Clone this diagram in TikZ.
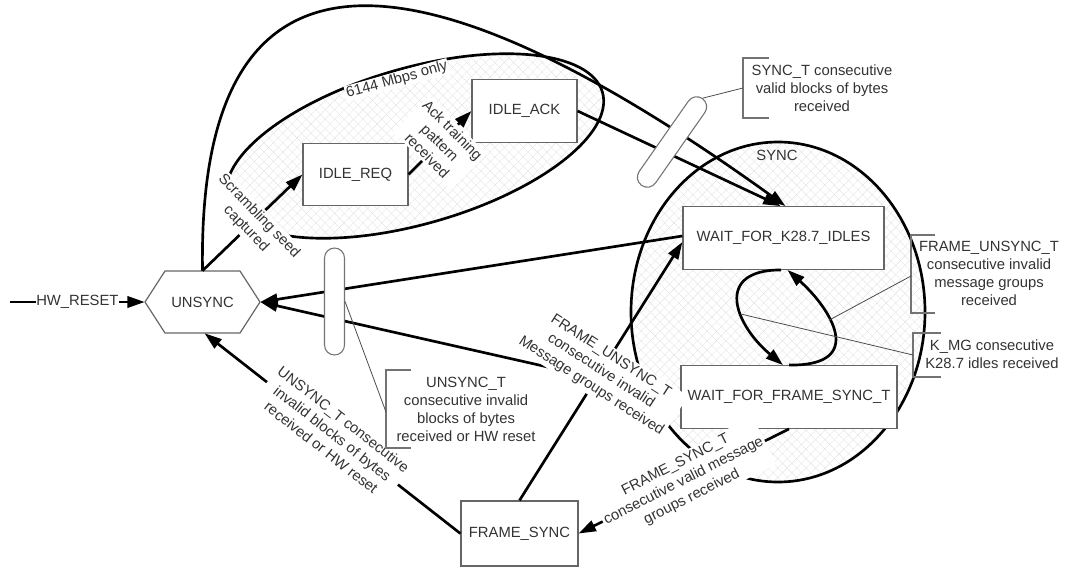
\documentclass[tikz,border=0pt]{standalone}
\usepackage{fontspec}
\setmainfont{Liberation Sans}
\usetikzlibrary{arrows.meta,patterns.meta,calc}

\begin{document}
\begin{tikzpicture}[x=0.75pt,y=-0.75pt,
  font=\fontsize{11.1}{13.5}\selectfont,
  every node/.style={text=black!80},
  stbox/.style={draw=black!60, line width=0.9pt, fill=white, minimum height=47pt, inner sep=0pt},
  trans/.style={line width=2pt, -{Triangle[length=13pt,width=8.5pt]}},
  tlabel/.style={fill=white, align=center, inner sep=1.5pt},
  super/.style={line width=2pt},
  hatcha/.style={pattern={Lines[angle=45,distance=5pt,line width=0.3pt]}, pattern color=black!11},
  hatchb/.style={pattern={Lines[angle=-45,distance=5pt,line width=0.3pt]}, pattern color=black!11},
  capsule/.style={draw=black!55, line width=0.8pt, fill=white, rounded corners=7.5pt, minimum height=15pt, inner sep=0pt},
  bracket/.style={draw=black!55, line width=0.8pt},
  pointer/.style={draw=black!70, line width=0.6pt},
  note/.style={align=center, inner sep=0pt},
]
\useasboundingbox (0,0) rectangle (1069,567);

% superstate for the 6144 Mbps idle handshake
\begin{scope}[shift={(415,146)}, rotate=16]
  \path[hatcha] (0,0) ellipse [x radius=146.25pt, y radius=58.5pt];
  \path[hatchb] (0,0) ellipse [x radius=146.25pt, y radius=58.5pt];
  \draw[super] (0,0) ellipse [x radius=146.25pt, y radius=58.5pt];
\end{scope}

% SYNC superstate
\path[hatcha] (778,312) ellipse [x radius=110.25pt, y radius=127.5pt];
\path[hatchb] (778,312) ellipse [x radius=110.25pt, y radius=127.5pt];
\draw[super] (778,312) ellipse [x radius=110.25pt, y radius=127.5pt];
\node (synclbl) at (777,155) {SYNC};

% UNSYNC hexagon
\draw[draw=black!60, line width=0.9pt, fill=white]
  (145,302) -- (165,271) -- (240,271) -- (260,302) -- (240,333) -- (165,333) -- cycle;
\node[minimum width=86.25pt, minimum height=46.5pt, inner sep=0pt] (un) at (202.5,302) {UNSYNC};

% states
\node[stbox, minimum width=78.75pt] (req) at (355.5,174.5) {IDLE\_REQ};
\node[stbox, minimum width=78.75pt] (ack) at (524.5,111) {IDLE\_ACK};
\node[stbox, minimum width=150.75pt] (wk) at (783.5,238) {WAIT\_FOR\_K28.7\_IDLES};
\node[stbox, minimum width=162pt] (wf) at (789,397) {WAIT\_FOR\_FRAME\_SYNC\_T};
\node[stbox, minimum width=87.75pt, minimum height=48.75pt] (fs) at (519.5,533.5) {FRAME\_SYNC};

% transitions
\coordinate (rst) at (10,302);
\draw[trans] (rst) -- node[tlabel, inner sep=0.5pt] {HW\_RESET} (un.west);
\draw[trans] (un.north) -- node[tlabel, rotate=-46] {Scrambling seed\\captured} (req.west);
\draw[trans] (req.east) -- node[tlabel, rotate=-45] {Ack training\\pattern\\received} (ack.west);
\draw[trans] (ack.east) -- ($(wk.north)+(-3,0)$);
\draw[trans] (un.north) .. controls (197,-90) and (430,-50) .. ($(wk.north)+(2,0)$);
\draw[trans] ($(wk.west)+(0,-2)$) -- (un.east);
\draw[trans] (wf.west) -- (un.east);

% self loop between the two SYNC sub-states
\draw[trans] ($(wk.south)+(-2.5,0)$) .. controls (713,270) and (735,325) ..
  coordinate[pos=0.6] (kmgpt) ($(wf.north)+(-6,0)$);
\draw[trans] (wf.north) .. controls (868,366) and (830,308) ..
  coordinate[pos=0.6] (fupt) ($(wk.south)+(4,0)$);

% bundle markers
\node[capsule, minimum width=79.5pt, rotate=55] (cap1) at (672,142) {};
\node[capsule, minimum width=80.25pt, rotate=90] (cap2) at (334.5,301.5) {};

% labelled transitions drawn last so their labels sit on top
\draw[trans] (fs.north) -- node[tlabel, rotate=-33] {FRAME\_UNSYNC\_T\\consecutive invalid\\Message groups received} ($(wk.west)+(0,4)$);
\draw[trans] (wf.south) -- node[tlabel, rotate=27] {FRAME\_SYNC\_T\\consecutive valid message\\groups received} (fs.east);
\draw[trans] (fs.west) -- node[tlabel, rotate=-38] {UNSYNC\_T consecutive\\invalid blocks of bytes\\received or HW reset} ($(un.south)+(2,0)$);

\node[fill=white, inner sep=0.8pt, rotate=15.5] (rate) at (397,80) {6144 Mbps only};

% callouts
\node[note] (n1) at (822,88) {SYNC\_T consecutive\\valid blocks of bytes\\received};
\draw[bracket] (769,58) -- (743,58) -- (743,118) -- (769,118);
\coordinate (b1) at (743,88);
\draw[pointer] (cap1.east) -- (b1);

\node[note] (n2) at (466,409.5) {UNSYNC\_T\\consecutive invalid\\blocks of bytes\\received or HW reset};
\draw[bracket] (411,370) -- (386,370) -- (386,448) -- (411,448);
\coordinate (b2) at (386,412);
\draw[pointer] (cap2.south) -- (b2);

\node[note] (n3) at (989,273.5) {FRAME\_UNSYNC\_T\\consecutive invalid\\message groups\\received};
\draw[bracket] (935,235) -- (911,235) -- (911,313) -- (935,313);
\coordinate (b3) at (911,276);
\draw[pointer] (fupt) -- (b3);

\node[note] (n4) at (992,354) {K\_MG consecutive\\K28.7 idles received};
\draw[bracket] (941,333) -- (913,333) -- (913,377) -- (941,377);
\coordinate (b4) at (913,355);
\draw[pointer] (kmgpt) -- (b4);
\end{tikzpicture}
\end{document}
